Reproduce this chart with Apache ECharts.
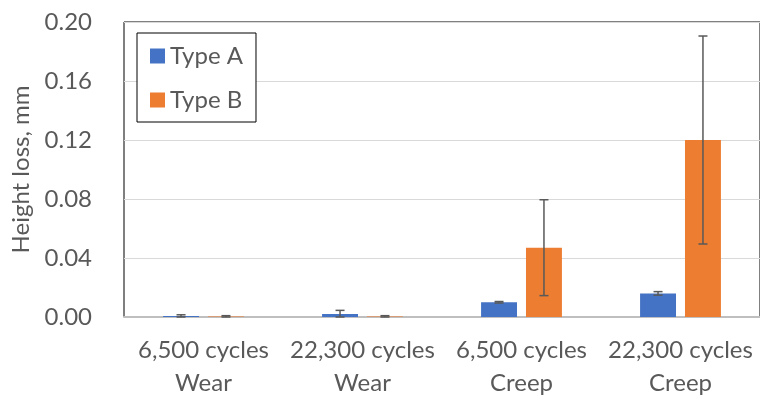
<!DOCTYPE html>
<html><head><meta charset="utf-8">
<script src="https://cdn.jsdelivr.net/npm/echarts@6/dist/echarts.min.js"></script>
<style>html,body{margin:0;padding:0;background:#fff}#c{width:760px;height:401px}</style>
</head><body><div id="c"></div>
<script>
var categories = ['6,500 cycles\nWear', '22,300 cycles\nWear', '6,500 cycles\nCreep', '22,300 cycles\nCreep'];
var typeA = [0.0007, 0.002, 0.010, 0.016];
var typeAErr = [0.0008, 0.0025, 0.0005, 0.0012];
var typeB = [0.0003, 0.0003, 0.047, 0.120];
var typeBErr = [0.0006, 0.0006, 0.0325, 0.0705];
var yTicks = [0, 0.04, 0.08, 0.12, 0.16, 0.20];

var FONT = 'Lato';
var FS = 24;
var BAR_PCT = 0.226, GAP = 0.25;
function errSeries(vals, errs, side) {
  return {
    type: 'custom', z: 5, silent: true,
    data: vals.map(function (v, i) { return [i, v, errs[i]]; }),
    renderItem: function (params, api) {
      var i = api.value(0), v = api.value(1), e = api.value(2);
      var band = api.size([1, 0])[0];
      var off = side * band * BAR_PCT * (1 + GAP) / 2;
      var top = api.coord([i, v + e]);
      var bot = api.coord([i, Math.max(0, v - e)]);
      var x = top[0] + off;
      var st = { stroke: '#595959', lineWidth: 1.5 };
      return { type: 'group', children: [
        { type: 'line', shape: { x1: x, y1: top[1], x2: x, y2: bot[1] }, style: st },
        { type: 'line', shape: { x1: x - 4.5, y1: top[1], x2: x + 4.5, y2: top[1] }, style: st },
        { type: 'line', shape: { x1: x - 4.5, y1: bot[1], x2: x + 4.5, y2: bot[1] }, style: st }
      ]};
    }
  };
}
var chart = echarts.init(document.getElementById('c'));
chart.setOption({
  animation: false,
  textStyle: { fontFamily: FONT },
  grid: { left: 124, right: -1, top: 22, bottom: 84, show: true, borderColor: '#000', borderWidth: 1 },
  legend: {
    orient: 'vertical', left: 137, top: 33, icon: 'rect', itemWidth: 15, itemHeight: 15, itemGap: 20,
    padding: [11, 13, 10, 13], borderColor: '#000', borderWidth: 1, backgroundColor: '#fff',
    textStyle: { fontSize: FS, lineHeight: 24, color: '#595959', fontFamily: FONT },
    data: ['Type A', 'Type B']
  },
  xAxis: {
    type: 'category', data: categories,
    axisLine: { lineStyle: { color: '#bfbfbf', width: 2 } },
    axisTick: { show: false },
    axisLabel: { interval: 0, fontSize: FS, color: '#595959', lineHeight: 33, margin: 17, fontFamily: FONT }
  },
  yAxis: {
    type: 'value', min: 0, max: 0.2, interval: 0.04,
    name: 'Height loss, mm', nameLocation: 'middle', nameGap: 90,
    nameTextStyle: { fontSize: FS, color: '#595959', fontFamily: FONT },
    axisLine: { show: false }, axisTick: { show: false },
    axisLabel: { fontSize: FS, color: '#595959', margin: 32, fontFamily: FONT,
      formatter: function (v) { return v.toFixed(2); } },
    splitLine: { lineStyle: { color: '#d9d9d9', width: 1 } }
  },
  series: [
    { name: 'Type A', type: 'bar', data: typeA, barWidth: (BAR_PCT * 100) + '%', barGap: (GAP * 100) + '%', itemStyle: { color: '#4472c4' } },
    { name: 'Type B', type: 'bar', data: typeB, barWidth: (BAR_PCT * 100) + '%', itemStyle: { color: '#ed7d31' } },
    errSeries(typeA, typeAErr, -1),
    errSeries(typeB, typeBErr, 1)
  ]
});
</script></body></html>
